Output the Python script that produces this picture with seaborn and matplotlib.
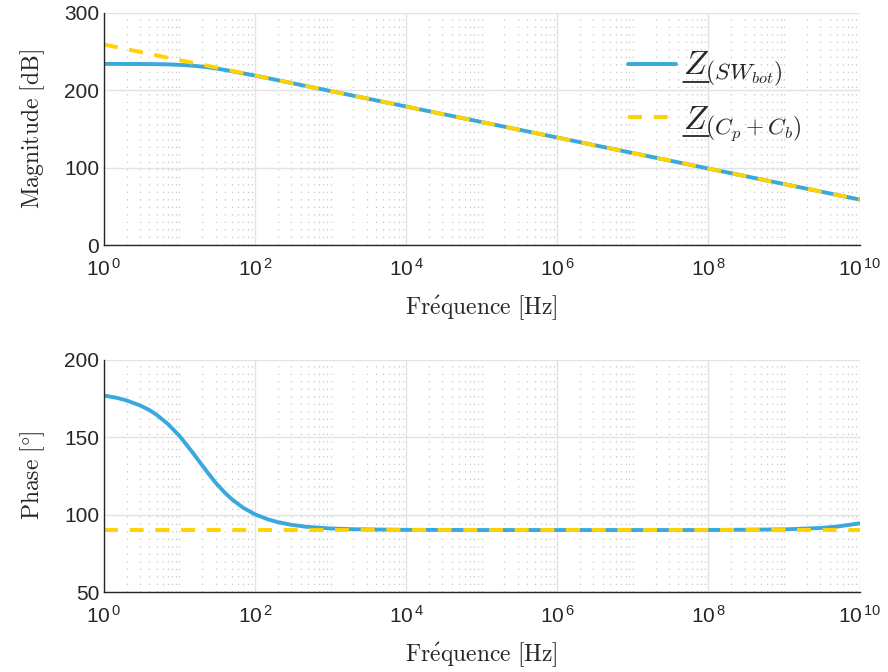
import numpy as np
import pandas as pd
import seaborn as sns
import matplotlib.pyplot as plt
from matplotlib.ticker import FixedLocator, NullFormatter
from matplotlib.lines import Line2D

# frequencies (Hz) where the curves were read
freq = [1, 1.5, 2, 3, 4, 5, 7, 10, 12, 15, 20, 25, 30, 40, 50, 70, 100, 150, 200,
        300, 500, 1e3, 2e3, 1e4, 1e5, 1e6, 1e7, 1e8, 1e9, 3e9, 5e9, 1e10]

# magnitude [dB]
mag_sw = [234.0, 234.0, 233.9, 233.9, 233.8, 233.7, 233.4, 232.8, 232.4, 231.7,
          230.5, 229.4, 228.2, 226.2, 224.5, 221.8, 218.9, 215.5, 213.0,
          209.5, 205.0, 199.0, 193.0, 179.0, 159.0, 139.0, 119.0, 99.0, 79.0,
          69.5, 65.0, 59.0]
mag_cp = [259.0, 255.5, 253.0, 249.5, 247.0, 245.0, 242.1, 239.0, 237.4, 235.5,
          233.0, 231.0, 229.5, 227.0, 225.0, 222.1, 219.0, 215.5, 213.0,
          209.5, 205.0, 199.0, 193.0, 179.0, 159.0, 139.0, 119.0, 99.0, 79.0,
          69.5, 65.0, 59.0]

# phase [deg]
phase_sw = [176.8, 175.2, 173.6, 170.4, 167.4, 164.3, 158.5, 150.7, 145.9, 139.9,
            131.7, 125.5, 120.6, 114.0, 109.6, 104.3, 100.1, 96.8, 95.1,
            93.4, 92.0, 91.0, 90.5, 90.1, 90.0, 90.0, 90.0, 90.0, 90.4,
            91.3, 92.2, 94.3]
phase_cp = [90.0] * len(freq)

labels = [r'$Z_{(SW_{bot})}$', r'$Z_{(C_p+C_b)}$']
xticks = [1e0, 1e2, 1e4, 1e6, 1e8, 1e10]
xticklabels = [r'$\mathregular{10^{\,%d}}$' % e for e in [0, 2, 4, 6, 8, 10]]

sns.set_style('white')
plt.rcParams['font.family'] = ['Liberation Sans', 'DejaVu Sans']
plt.rcParams['mathtext.fontset'] = 'cm'

blue = '#3AA8DC'
yellow = '#FFD200'
lw = 2.8

mag_df = pd.DataFrame({'f': freq * 2, 'val': mag_sw + mag_cp,
                       'curve': [labels[0]] * len(freq) + [labels[1]] * len(freq)})
ph_df = pd.DataFrame({'f': freq * 2, 'val': phase_sw + phase_cp,
                      'curve': [labels[0]] * len(freq) + [labels[1]] * len(freq)})

minor_pos = [m * 10.0 ** d for d in range(10) for m in range(1, 10)
             if not (m == 1 and d % 2 == 0)]

fig = plt.figure(figsize=(8.88, 6.72), dpi=100)
ax1 = fig.add_axes([0.117, 0.635, 0.851, 0.346])
ax2 = fig.add_axes([0.117, 0.119, 0.851, 0.346])

for ax, df in [(ax1, mag_df), (ax2, ph_df)]:
    ax.set_xscale('log')
    sns.lineplot(data=df[df.curve == labels[0]], x='f', y='val', ax=ax,
                 color=blue, lw=lw, label=labels[0])
    sns.lineplot(data=df[df.curve == labels[1]], x='f', y='val', ax=ax,
                 color=yellow, lw=lw, ls=(0, (3.6, 3.0)), label=labels[1])
    ax.set_xlim(1, 1e10)
    ax.set_xticks(xticks)
    ax.set_xticklabels(xticklabels)
    ax.xaxis.set_minor_locator(FixedLocator(minor_pos))
    ax.xaxis.set_minor_formatter(NullFormatter())
    ax.grid(True, which='major', color='#e3e3e3', lw=1.0, ls='-')
    ax.grid(True, which='minor', axis='x', color='#c4c4c4', lw=0.9, ls=(0, (1, 5)))
    ax.set_axisbelow(True)
    for s in ['top', 'right']:
        ax.spines[s].set_visible(False)
    for s in ['left', 'bottom']:
        ax.spines[s].set_color('#262626')
        ax.spines[s].set_linewidth(1.0)
    ax.tick_params(which='both', direction='in', colors='#262626', labelsize=15,
                   labelcolor='#262626')
    ax.tick_params(which='major', length=6)
    ax.tick_params(which='minor', length=3)
    ax.tick_params(axis='x', pad=9)
    ax.set_xlabel(r'$\mathrm{Fr\acute{e}quence\ [Hz]}$', fontsize=17, labelpad=10)

ax1.set_ylim(0, 300)
ax1.set_yticks([0, 100, 200, 300])
ax1.set_ylabel(r'$\mathrm{Magnitude\ [dB]}$', fontsize=17, labelpad=12)
leg = ax1.legend(loc='upper left', bbox_to_anchor=(0.693, 0.84), frameon=False,
                 fontsize=24, handlelength=1.45, handletextpad=0.2, labelspacing=0.45,
                 borderpad=0, borderaxespad=0)

ax2.set_ylim(50, 200)
ax2.set_yticks([50, 100, 150, 200])
ax2.set_ylabel(r'$\mathrm{Phase\ [\degree]}$', fontsize=17, labelpad=12)
ax2.get_legend().remove()

# underline the Z of each legend entry (mathtext has no \underline)
fig.canvas.draw()
renderer = fig.canvas.get_renderer()
probe = fig.text(0, 0, r'$Z$', fontsize=24)
zw = probe.get_window_extent(renderer).width
probe.remove()
for t in leg.get_texts():
    bb = t.get_window_extent(renderer)
    y0 = bb.y0 + 0.2 * bb.height
    fig.add_artist(Line2D([bb.x0, bb.x0 + zw], [y0, y0], transform=None,
                          color='black', lw=1.1))

fig.savefig('out.png', dpi=100)
